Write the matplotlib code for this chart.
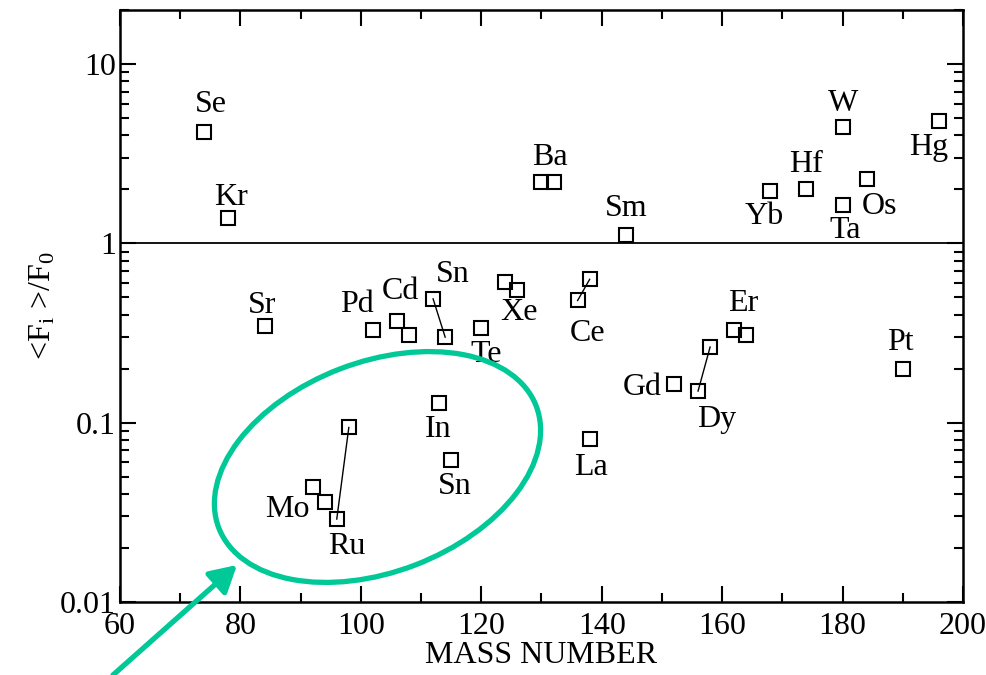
import matplotlib.pyplot as plt
from matplotlib.patches import Ellipse, FancyArrowPatch
from matplotlib.ticker import FixedLocator, FixedFormatter, LogLocator, NullFormatter, MultipleLocator
from matplotlib.transforms import IdentityTransform

plt.rcParams['font.family'] = ['Liberation Serif', 'DejaVu Serif']
plt.rcParams['mathtext.fontset'] = 'custom'
plt.rcParams['mathtext.rm'] = 'Liberation Serif'
plt.rcParams['mathtext.it'] = 'Liberation Serif:italic'

# mass number and <F_i>/F_0 for each isotope
mass = [74, 78, 84, 92, 94, 96, 98, 102, 106, 108, 112, 113, 114, 115,
        120, 124, 126, 130, 132, 136, 138, 138, 144, 152, 156, 158,
        162, 164, 168, 174, 180, 180, 184, 190, 196]
ratio = [4.2, 1.38, 0.345, 0.044, 0.036, 0.029, 0.094, 0.33, 0.37, 0.31,
         0.49, 0.128, 0.30, 0.062, 0.336, 0.61, 0.55, 2.19, 2.2, 0.48,
         0.63, 0.081, 1.11, 0.164, 0.150, 0.264, 0.33, 0.31, 1.97, 2.0,
         4.43, 1.63, 2.27, 0.199, 4.84]

# isotope pairs joined by a line (indices into mass/ratio)
pairs = [(10, 12), (19, 20), (24, 25), (5, 6)]

# element names, the point each one belongs to, and its offset in pixels
names = ['Se', 'Kr', 'Sr', 'Pd', 'Cd', 'Sn', 'Te', 'Xe', 'Ba', 'Ce', 'Sm',
         'La', 'Gd', 'Dy', 'Er', 'Yb', 'Hf', 'W', 'Ta', 'Os', 'Hg', 'Pt',
         'Mo', 'Ru', 'In', 'Sn']
name_pt = [0, 1, 2, 7, 8, 10, 14, 16, 17, 19, 22,
           21, 23, 24, 26, 28, 29, 30, 31, 32, 34, 33,
           3, 5, 11, 13]
name_off = [(7, 27), (3, 21), (-2, 21), (-16, 25), (3, 29), (20, 24),
            (5, -26), (2, -23), (8, 25), (10, -33), (0, 27),
            (1, -28), (-32, -3), (19, -28), (9, 26), (-6, -26), (0, 25),
            (0, 24), (3, -25), (13, -27), (-10, -27), (-2, 27),
            (-25, -23), (10, -27), (-1, -26), (4, -27)]

fs = 23

fig = plt.figure(figsize=(9.87, 6.75), dpi=100)
ax = fig.add_axes([120 / 987, 73 / 675, 843 / 987, 592 / 675])

ax.axhline(1, color='black', lw=1.3, zorder=1)
for i, j in pairs:
    ax.plot([mass[i], mass[j]], [ratio[i], ratio[j]], color='black', lw=1.0, zorder=2)
ax.plot(mass, ratio, ls='none', marker='s', ms=10.5, mfc='none', mec='black',
        mew=1.5, zorder=3)

for name, k, off in zip(names, name_pt, name_off):
    ax.annotate(name, (mass[k], ratio[k]), xytext=off, textcoords='offset pixels',
                ha='center', va='center', fontsize=fs)

ax.set_yscale('log')
ax.set_xlim(60, 200)
ax.set_ylim(0.01, 20)
ax.xaxis.set_major_locator(MultipleLocator(20))
ax.xaxis.set_minor_locator(MultipleLocator(10))
ax.yaxis.set_major_locator(FixedLocator([0.01, 0.1, 1, 10]))
ax.yaxis.set_major_formatter(FixedFormatter(['0.01', '0.1', '1', '10']))
ax.yaxis.set_minor_locator(LogLocator(base=10, subs=range(2, 10)))
ax.yaxis.set_minor_formatter(NullFormatter())
ax.tick_params(which='both', direction='in', top=True, right=True, width=1.5,
               labelsize=fs)
ax.tick_params(which='major', length=11.5)
ax.tick_params(which='minor', length=6.5)
ax.tick_params(axis='x', which='major', pad=7)
ax.tick_params(axis='y', which='major', pad=3)
for s in ax.spines.values():
    s.set_linewidth(1.8)

ax.set_xlabel('MASS NUMBER', fontsize=fs, labelpad=0)
ax.set_ylabel(r'<F$_{\rm i}$ >/F$_0$', fontsize=fs, labelpad=2)

# highlight the low group with an ellipse and an arrow (figure pixels)
green = '#00c896'
ell = Ellipse((377.5, 675 - 467), 340, 210, angle=21, fill=False,
              ec=green, lw=3.8, transform=IdentityTransform(), zorder=5)
fig.patches.append(ell)
arr = FancyArrowPatch((113, 0), (237, 675 - 565), transform=IdentityTransform(),
                      arrowstyle='-|>,head_length=16,head_width=9', color=green,
                      lw=3.8, shrinkA=0, shrinkB=0, mutation_scale=1)
fig.patches.append(arr)

fig.savefig('out.png', dpi=100)
